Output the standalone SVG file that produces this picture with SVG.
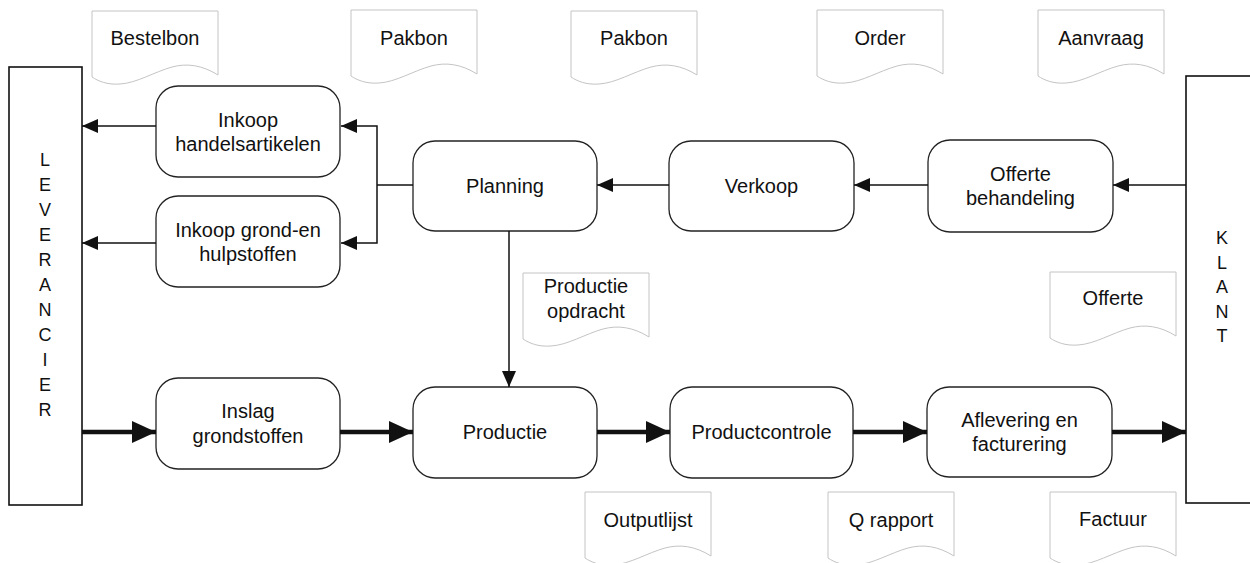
<svg xmlns="http://www.w3.org/2000/svg" width="1250" height="563" viewBox="0 0 1250 563">
<style>
.box{fill:#fff;stroke:#222;stroke-width:1.3}
.ent{fill:#fff;stroke:#111;stroke-width:1.6}
.doc{fill:#fff;stroke:#c4c4c4;stroke-width:1}
.t{font-family:"Liberation Sans",Arial,sans-serif;font-size:20px;fill:#111;text-anchor:middle}
.v{font-family:"Liberation Sans",Arial,sans-serif;font-size:18px;fill:#111;text-anchor:middle}
.thin{stroke:#111;stroke-width:1.5;fill:none}
.thick{stroke:#111;stroke-width:4.5;fill:none}
</style>
<defs>
<marker id="ah" markerUnits="userSpaceOnUse" markerWidth="16" markerHeight="14" refX="16" refY="7" orient="auto">
<path d="M0,0 L16,7 L0,14 Z" fill="#111"/>
</marker>
<marker id="ahb" markerUnits="userSpaceOnUse" markerWidth="24" markerHeight="22" refX="24" refY="11" orient="auto">
<path d="M0,0 L24,11 L0,22 Z" fill="#111"/>
</marker>
<path id="docshape" d="M0,0 H126 V64 C110,54 95,52 80,56 C62,61 45,72 28,73 C15,74 6,70 0,66 Z"/>
</defs>

<g id="leverancier">
<rect class="ent" x="9" y="67" width="73" height="438"/>
<text class="v" x="45" y="166">L</text>
<text class="v" x="45" y="191">E</text>
<text class="v" x="45" y="216">V</text>
<text class="v" x="45" y="241">E</text>
<text class="v" x="45" y="266">R</text>
<text class="v" x="45" y="291">A</text>
<text class="v" x="45" y="316">N</text>
<text class="v" x="45" y="341">C</text>
<text class="v" x="45" y="366">I</text>
<text class="v" x="45" y="391">E</text>
<text class="v" x="45" y="416">R</text>
</g>

<g id="klant">
<rect class="ent" x="1186" y="76" width="80" height="427"/>
<text class="v" x="1222" y="244">K</text>
<text class="v" x="1222" y="268.5">L</text>
<text class="v" x="1222" y="293">A</text>
<text class="v" x="1222" y="317.5">N</text>
<text class="v" x="1222" y="342">T</text>
</g>

<g id="inkoop-handel">
<rect class="box" x="156" y="86" width="184" height="91" rx="22"/>
<text class="t" x="248" y="126.5">Inkoop</text>
<text class="t" x="248" y="150.5">handelsartikelen</text>
</g>
<g id="inkoop-grond">
<rect class="box" x="156" y="196" width="184" height="91" rx="22"/>
<text class="t" x="248" y="236.5">Inkoop grond-en</text>
<text class="t" x="248" y="260.5">hulpstoffen</text>
</g>
<g id="planning">
<rect class="box" x="413" y="141" width="184" height="90" rx="22"/>
<text class="t" x="505" y="193">Planning</text>
</g>
<g id="verkoop">
<rect class="box" x="669" y="141" width="185" height="90" rx="22"/>
<text class="t" x="761.5" y="193">Verkoop</text>
</g>
<g id="offerte-behandeling">
<rect class="box" x="928" y="140" width="185" height="92" rx="22"/>
<text class="t" x="1020.5" y="181">Offerte</text>
<text class="t" x="1020.5" y="205">behandeling</text>
</g>
<g id="inslag">
<rect class="box" x="156" y="378" width="184" height="91" rx="22"/>
<text class="t" x="248" y="418">Inslag</text>
<text class="t" x="248" y="442.5">grondstoffen</text>
</g>
<g id="productie">
<rect class="box" x="413" y="387" width="184" height="91" rx="22"/>
<text class="t" x="505" y="439">Productie</text>
</g>
<g id="productcontrole">
<rect class="box" x="670" y="387" width="183" height="91" rx="22"/>
<text class="t" x="761.5" y="439">Productcontrole</text>
</g>
<g id="aflevering">
<rect class="box" x="927" y="387" width="185" height="90" rx="22"/>
<text class="t" x="1019.5" y="427">Aflevering en</text>
<text class="t" x="1019.5" y="450.5">facturering</text>
</g>

<g id="doc-bestelbon"><use href="#docshape" class="doc" x="92" y="11"/><text class="t" x="155" y="45">Bestelbon</text></g>
<g id="doc-pakbon1"><use href="#docshape" class="doc" x="351" y="10"/><text class="t" x="414" y="45">Pakbon</text></g>
<g id="doc-pakbon2"><use href="#docshape" class="doc" x="571" y="11"/><text class="t" x="634" y="45">Pakbon</text></g>
<g id="doc-order"><use href="#docshape" class="doc" x="817" y="10"/><text class="t" x="880" y="45">Order</text></g>
<g id="doc-aanvraag"><use href="#docshape" class="doc" x="1038" y="10"/><text class="t" x="1101" y="45">Aanvraag</text></g>
<g id="doc-productieopdracht"><use href="#docshape" class="doc" x="523" y="273"/><text class="t" x="586" y="293">Productie</text><text class="t" x="586" y="318">opdracht</text></g>
<g id="doc-offerte"><use href="#docshape" class="doc" x="1050" y="272"/><text class="t" x="1113" y="305">Offerte</text></g>
<g id="doc-outputlijst"><use href="#docshape" class="doc" x="585" y="492"/><text class="t" x="648" y="527">Outputlijst</text></g>
<g id="doc-qrapport"><use href="#docshape" class="doc" x="828" y="492"/><text class="t" x="891" y="527">Q rapport</text></g>
<g id="doc-factuur"><use href="#docshape" class="doc" x="1050" y="492"/><text class="t" x="1113" y="526">Factuur</text></g>

<g id="connectors">
<line class="thin" x1="156" y1="126" x2="82" y2="126" marker-end="url(#ah)"/>
<line class="thin" x1="156" y1="243" x2="82" y2="243" marker-end="url(#ah)"/>
<polyline class="thin" points="413,185 377,185"/>
<polyline class="thin" points="377,185 377,126 341,126" marker-end="url(#ah)"/>
<polyline class="thin" points="377,185 377,243 341,243" marker-end="url(#ah)"/>
<line class="thin" x1="669" y1="185" x2="597" y2="185" marker-end="url(#ah)"/>
<line class="thin" x1="928" y1="185" x2="854" y2="185" marker-end="url(#ah)"/>
<line class="thin" x1="1186" y1="185" x2="1113" y2="185" marker-end="url(#ah)"/>
<line class="thin" x1="509" y1="231" x2="509" y2="387" marker-end="url(#ah)"/>
<line class="thick" x1="82" y1="432" x2="156" y2="432" marker-end="url(#ahb)"/>
<line class="thick" x1="340" y1="432" x2="413" y2="432" marker-end="url(#ahb)"/>
<line class="thick" x1="597" y1="432" x2="670" y2="432" marker-end="url(#ahb)"/>
<line class="thick" x1="853" y1="432" x2="927" y2="432" marker-end="url(#ahb)"/>
<line class="thick" x1="1112" y1="432" x2="1186" y2="432" marker-end="url(#ahb)"/>
</g>
</svg>
